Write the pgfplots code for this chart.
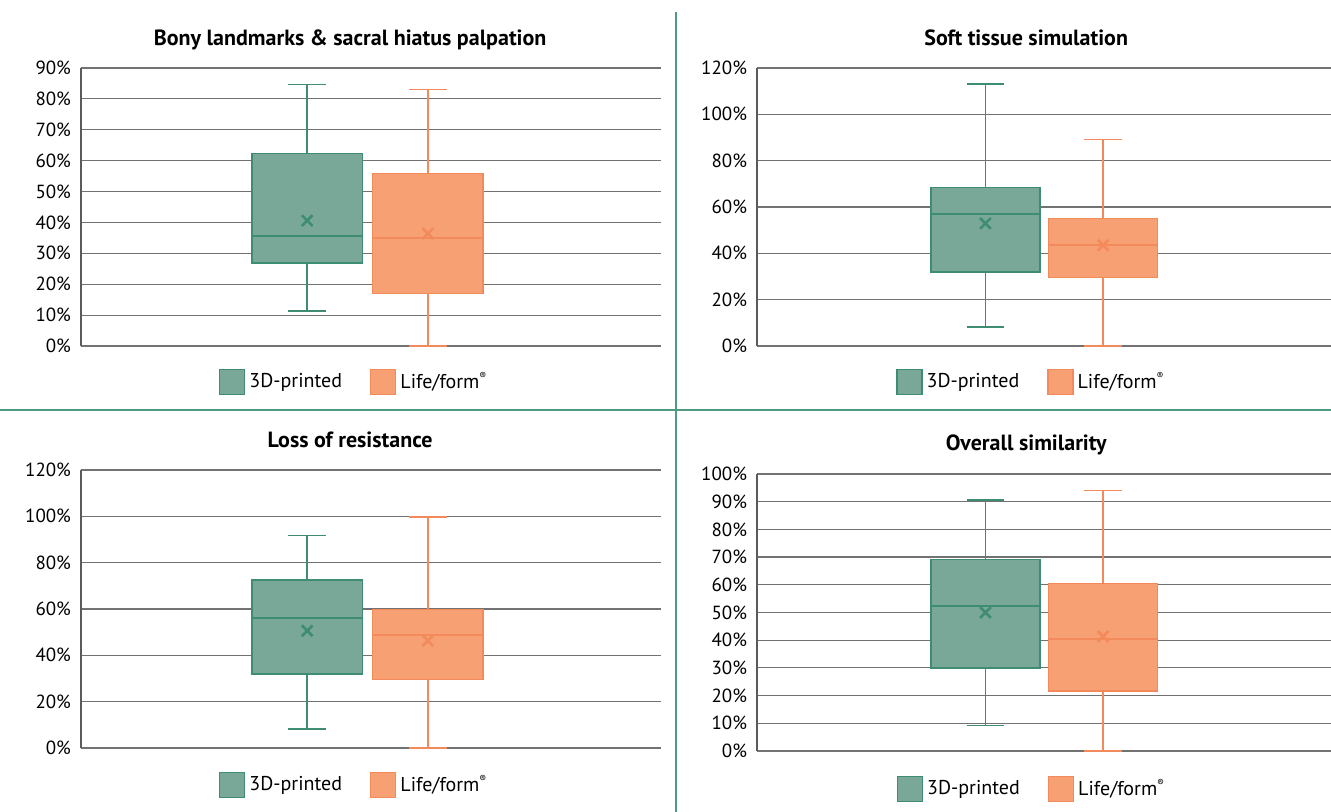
\documentclass[border=0pt]{standalone}
\usepackage{fontspec}
\setmainfont{PT Sans}
\usepackage{pgfplots}
\pgfplotsset{compat=1.18}
\usepgfplotslibrary{statistics}
\definecolor{tdfill}{HTML}{7AA898}
\definecolor{tdedge}{HTML}{3E8C74}
\definecolor{lffill}{HTML}{F7A073}
\definecolor{lfedge}{HTML}{F28A5B}
\definecolor{divider}{HTML}{4E9A82}
\definecolor{gridc}{HTML}{727272}
\pgfplotsset{
  panel/.style={
    scale only axis,
    anchor=south west,
    clip=false,
    xmin=0, xmax=1, ymin=0,
    hide x axis,
    axis y line*=left,
    y axis line style={draw=gridc!80!black, line width=0.6pt},
    ymajorgrids,
    grid style={draw=gridc, line width=0.6pt},
    major tick length=0pt,
    xtick=\empty,
    yticklabel={\pgfmathprintnumber{\tick}\%},
    /pgf/number format/assume math mode=true,
    ticklabel style={font=\fontsize{9.5pt}{11pt}\selectfont, text=black},
    yticklabel style={xshift=-1.5pt},
    title style={font=\bfseries\fontsize{11pt}{13pt}\selectfont, anchor=base, yshift=0pt},
    legend style={draw=none, fill=none, anchor=center, legend columns=2,
      font=\fontsize{10pt}{12pt}\selectfont,
      /tikz/every even column/.append style={column sep=12pt}},
  },
  tdbox/.style={forget plot, draw=tdedge, fill=tdfill, line width=0.7pt,
    boxplot/draw direction=y,
    boxplot/box extend=0.19, boxplot/whisker extend=0.065,
    boxplot/every whisker/.style={draw=tdedge, line width=0.8pt},
    boxplot/every median/.style={draw=tdedge, line width=1pt}},
  lfbox/.style={forget plot, draw=lfedge, fill=lffill, line width=0.7pt,
    boxplot/draw direction=y,
    boxplot/box extend=0.19, boxplot/whisker extend=0.065,
    boxplot/every whisker/.style={draw=lfedge, line width=0.8pt},
    boxplot/every median/.style={draw=lfedge, line width=1pt}},
  tdmean/.style={forget plot, only marks, mark=x, mark size=3.8pt,
    mark options={draw=tdedge, line width=1.3pt}},
  lfmean/.style={forget plot, only marks, mark=x, mark size=3.8pt,
    mark options={draw=lfedge, line width=1.3pt}},
}
\newcommand{\legendentries}{%
  \addlegendimage{legend image code/.code={\draw[fill=tdfill,draw=tdedge,line width=0.7pt] (0pt,-6.25pt) rectangle (12.5pt,6.25pt);}}
  \addlegendentry{3D-printed}
  \addlegendimage{legend image code/.code={\draw[fill=lffill,draw=lfedge,line width=0.7pt] (0pt,-6.25pt) rectangle (12.5pt,6.25pt);}}
  \addlegendentry{Life/form\raisebox{0.85ex}{\fontsize{5pt}{5pt}\selectfont ®}}
}
\begin{document}
\begin{tikzpicture}
\path[use as bounding box] (0,0) rectangle (665.5pt,406pt);
\draw[divider, line width=1.2pt] (338pt,400pt) -- (338pt,0pt);
\draw[divider, line width=1.2pt] (0pt,201pt) -- (665.5pt,201pt);

% Panel 1
\begin{axis}[panel, at={(40.5pt,233pt)}, width=290pt, height=139pt,
  ymax=90, ytick={0,10,...,90},
  title={Bony landmarks \& sacral hiatus palpation},
  title style={at={(axis description cs:0.464,1.037)}},
  legend style={at={(axis description cs:0.472,-0.129)}}]
\addplot[tdbox, boxplot prepared={draw position=0.390, lower whisker=11.3, lower quartile=26.9, median=35.7, upper quartile=62.3, upper whisker=84.7}] coordinates {};
\addplot[lfbox, boxplot prepared={draw position=0.598, lower whisker=0, lower quartile=17.0, median=35.1, upper quartile=55.9, upper whisker=83.0}] coordinates {};
\addplot[tdmean] coordinates {(0.390,40.6)};
\addplot[lfmean] coordinates {(0.598,36.4)};
\legendentries
\end{axis}

% Panel 2
\begin{axis}[panel, at={(378.5pt,233pt)}, width=287pt, height=139pt,
  ymax=120, ytick={0,20,...,120},
  title={Soft tissue simulation},
  title style={at={(axis description cs:0.469,1.037)}},
  legend style={at={(axis description cs:0.479,-0.129)}}]
\addplot[tdbox, boxplot prepared={draw position=0.398, lower whisker=8.2, lower quartile=32.0, median=56.8, upper quartile=68.3, upper whisker=113.0}] coordinates {};
\addplot[lfbox, boxplot prepared={draw position=0.603, lower whisker=0, lower quartile=29.5, median=43.5, upper quartile=55.0, upper whisker=89.2}] coordinates {};
\addplot[tdmean] coordinates {(0.398,52.9)};
\addplot[lfmean] coordinates {(0.603,43.5)};
\legendentries
\end{axis}

% Panel 3
\begin{axis}[panel, at={(40.5pt,32pt)}, width=290pt, height=139pt,
  ymax=120, ytick={0,20,...,120},
  title={Loss of resistance},
  title style={at={(axis description cs:0.464,1.037)}},
  legend style={at={(axis description cs:0.472,-0.133)}}]
\addplot[tdbox, boxplot prepared={draw position=0.390, lower whisker=8.3, lower quartile=32.0, median=56.1, upper quartile=72.6, upper whisker=91.8}] coordinates {};
\addplot[lfbox, boxplot prepared={draw position=0.598, lower whisker=0, lower quartile=29.5, median=48.9, upper quartile=59.9, upper whisker=99.6}] coordinates {};
\addplot[tdmean] coordinates {(0.390,50.6)};
\addplot[lfmean] coordinates {(0.598,46.3)};
\legendentries
\end{axis}

% Panel 4
\begin{axis}[panel, at={(378.5pt,30.5pt)}, width=287pt, height=138.5pt,
  ymax=100, ytick={0,10,...,100},
  title={Overall similarity},
  title style={at={(axis description cs:0.469,1.042)}},
  legend style={at={(axis description cs:0.48,-0.137)}}]
\addplot[tdbox, boxplot prepared={draw position=0.398, lower whisker=9.2, lower quartile=30.0, median=52.2, upper quartile=69.1, upper whisker=90.6}] coordinates {};
\addplot[lfbox, boxplot prepared={draw position=0.603, lower whisker=0, lower quartile=21.6, median=40.5, upper quartile=60.4, upper whisker=94.1}] coordinates {};
\addplot[tdmean] coordinates {(0.398,50.0)};
\addplot[lfmean] coordinates {(0.603,41.4)};
\legendentries
\end{axis}
\end{tikzpicture}
\end{document}
